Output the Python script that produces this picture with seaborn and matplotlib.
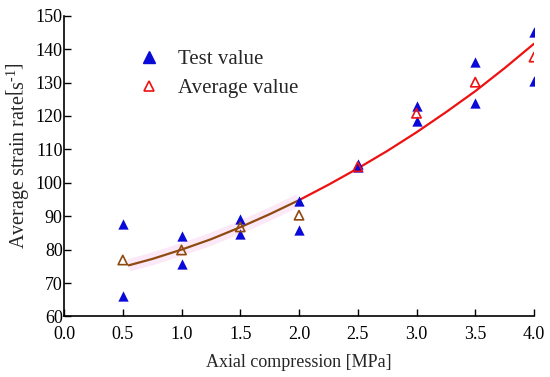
import numpy as np
import pandas as pd
import matplotlib
matplotlib.use("Agg")
import matplotlib.pyplot as plt
import seaborn as sns
from matplotlib.lines import Line2D

# test values (two per load level)
pressure = [0.5, 0.5, 1.0, 1.0, 1.5, 1.5, 2.0, 2.0, 2.5, 2.5, 3.0, 3.0, 3.5, 3.5, 4.0, 4.0]
strain_rate = [87.8, 66.0, 84.0, 75.8, 89.3, 84.6, 94.5, 86.0, 105.6, 104.6, 122.9, 118.6, 136.1, 124.0, 145.1, 130.3]

# average values
avg_pressure = [0.5, 1.0, 1.5, 2.0, 2.5, 3.0, 3.5, 4.0]
avg_rate = [76.9, 79.9, 86.8, 90.3, 104.8, 120.8, 130.1, 137.6]

# fitted curve
fit_x = [0.55, 0.75, 1.0, 1.25, 1.5, 1.75, 2.0, 2.25, 2.5, 2.75, 3.0, 3.25, 3.5, 3.75, 4.0]
fit_y = [75.3, 77.2, 80.0, 83.1, 86.7, 90.6, 94.8, 99.4, 104.3, 109.5, 115.1, 121.1, 127.4, 134.3, 141.6]

sns.set_style("ticks")
plt.rcParams['font.family'] = ['Liberation Serif', 'DejaVu Serif']
plt.rcParams['mathtext.fontset'] = 'custom'
plt.rcParams['mathtext.rm'] = 'Liberation Serif'

fig = plt.figure(figsize=(5.5, 3.77), dpi=100)
ax = fig.add_axes([0.1164, 0.1605, 0.8545, 0.798])

test_df = pd.DataFrame({'p': pressure, 'r': strain_rate})
avg_df = pd.DataFrame({'p': avg_pressure, 'r': avg_rate})
fit_df = pd.DataFrame({'p': fit_x, 'r': fit_y})

brown = '#8f4a12'
red = '#ee1111'
blue = '#0a0ad8'

low = fit_df[fit_df.p <= 2.0]
high = fit_df[fit_df.p >= 2.0]
# pink haze behind the low part
sns.lineplot(data=low, x='p', y='r', ax=ax, color='#f9c8ec', lw=9, alpha=0.4, solid_capstyle='butt')
sns.lineplot(data=low, x='p', y='r', ax=ax, color=brown, lw=1.6)
sns.lineplot(data=high, x='p', y='r', ax=ax, color=red, lw=1.6)

sns.scatterplot(data=test_df, x='p', y='r', ax=ax, marker='^', s=55, color=blue,
                edgecolor=blue, linewidth=0, zorder=4)

avg_low = avg_df[avg_df.p <= 2.0]
avg_high = avg_df[avg_df.p > 2.0]
sns.scatterplot(data=avg_low, x='p', y='r', ax=ax, marker='^', s=45, facecolor='none',
                edgecolor=brown, linewidth=1.2, zorder=5)
sns.scatterplot(data=avg_high, x='p', y='r', ax=ax, marker='^', s=45, facecolor='none',
                edgecolor=red, linewidth=1.2, zorder=5)

ax.set_xlim(0, 4.0)
ax.set_ylim(60, 150)
ax.set_xticks(np.arange(0, 4.01, 0.5))
ax.set_xticklabels([f'{v:.1f}' for v in np.arange(0, 4.01, 0.5)])
ax.set_yticks(np.arange(60, 151, 10))
ax.tick_params(direction='in', length=5, width=1, labelsize=13, colors='black')
ax.tick_params(axis='x', pad=7)
ax.tick_params(axis='y', pad=1)
for s in ['top', 'right']:
    ax.spines[s].set_visible(False)
for s in ['left', 'bottom']:
    ax.spines[s].set_linewidth(1.2)
    ax.spines[s].set_color('black')

ax.set_xlabel('Axial compression [MPa]', fontsize=13, labelpad=8)
ax.set_ylabel(r'Average strain rate$\left[\mathrm{s}^{\text{-}1}\right]$', fontsize=14.5)
ax.yaxis.set_label_coords(-0.07, 0.535)

handles = [
    Line2D([], [], marker='^', color='none', markerfacecolor=blue, markeredgecolor=blue,
           markersize=8, label='Test value'),
    Line2D([], [], marker='^', color='none', markerfacecolor='none', markeredgecolor=red,
           markeredgewidth=1.2, markersize=7, label='Average value'),
]
ax.legend(handles=handles, loc='upper left', bbox_to_anchor=(0.115, 0.95), frameon=False,
          fontsize=15, handletextpad=0.8, labelspacing=0.45, handlelength=1.2)

fig.savefig('out.png', dpi=100)
